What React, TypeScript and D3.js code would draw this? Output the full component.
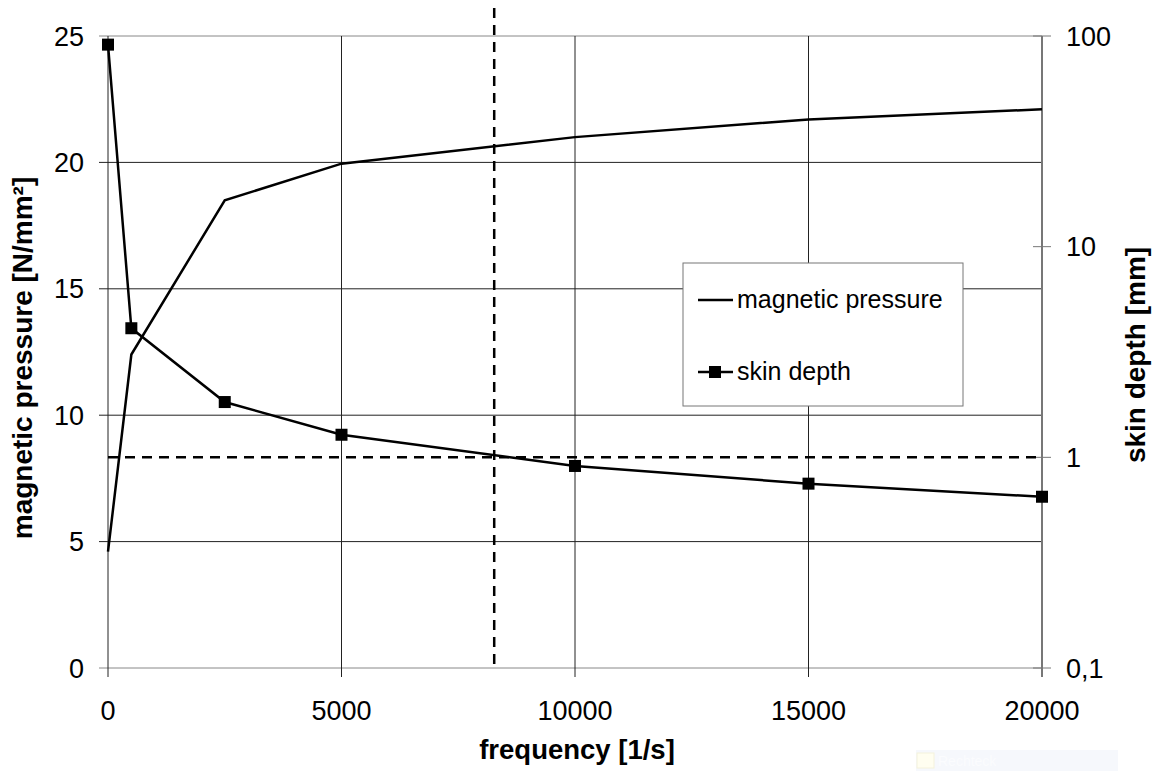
import React from "react";
import * as d3 from "d3";

const frequencies = [0, 500, 2500, 5000, 10000, 15000, 20000];
const pressure = [4.6, 12.4, 18.5, 19.95, 21.0, 21.7, 22.1];
const skinDepth = [91, 4.1, 1.83, 1.28, 0.91, 0.75, 0.65];
const xTicks = [0, 5000, 10000, 15000, 20000];
const yLeftTicks = [0, 5, 10, 15, 20, 25];
const yRightTicks = [0.1, 1, 10, 100];
const markerFrequency = 8270;
const markerDepth = 1;

const W = 1163;
const H = 771;
const M = { left: 108, right: 1042, top: 36, bottom: 668 };
const font = "'Liberation Sans', Arial, sans-serif";

export default function App() {
  const x = d3.scaleLinear().domain([0, 20000]).range([M.left, M.right]);
  const yL = d3.scaleLinear().domain([0, 25]).range([M.bottom, M.top]);
  const yR = d3.scaleLog().domain([0.1, 100]).range([M.bottom, M.top]);

  const pLine = d3
    .line<number>()
    .x((_, i) => x(frequencies[i]))
    .y((d) => yL(d))(pressure) as string;
  const sLine = d3
    .line<number>()
    .x((_, i) => x(frequencies[i]))
    .y((d) => yR(d))(skinDepth) as string;

  return (
    <svg width={W} height={H} style={{ display: "block", position: "absolute", left: 0, top: 0 }} fontFamily={font}>
      <rect width={W} height={H} fill="#fff" />
      {/* horizontal gridlines */}
      {yLeftTicks.map((t) => (
        <line key={"h" + t} x1={M.left - 9} x2={M.right} y1={yL(t)} y2={yL(t)} stroke={t === 25 || t === 0 ? "#888" : "#222"} strokeWidth={1} />
      ))}
      {/* vertical gridlines */}
      {xTicks.map((t) => (
        <line key={"v" + t} x1={x(t)} x2={x(t)} y1={M.top} y2={M.bottom + 9} stroke={t === 20000 ? "#777" : "#222"} strokeWidth={t === 20000 ? 2 : 1} />
      ))}
      {/* right axis ticks */}
      {yRightTicks.map((t) => (
        <line key={"r" + t} x1={M.right - 9} x2={M.right + 9} y1={yR(t)} y2={yR(t)} stroke="#777" strokeWidth={1} />
      ))}
      {/* left tick labels */}
      {yLeftTicks.map((t) => (
        <text key={"lt" + t} x={84} y={yL(t) + 9.5} textAnchor="end" fontSize={27} fill="#000">
          {t}
        </text>
      ))}
      {/* right tick labels */}
      {yRightTicks.map((t) => (
        <text key={"rt" + t} x={1066} y={yR(t) + 9.5} textAnchor="start" fontSize={27} fill="#000">
          {String(t).replace(".", ",")}
        </text>
      ))}
      {/* x tick labels */}
      {xTicks.map((t) => (
        <text key={"xt" + t} x={x(t)} y={720} textAnchor="middle" fontSize={27} fill="#000">
          {t}
        </text>
      ))}
      {/* axis titles */}
      <text x={577} y={759} textAnchor="middle" fontSize={27.5} fontWeight="bold" fill="#000">
        frequency [1/s]
      </text>
      <text transform={`translate(32, ${358}) rotate(-90)`} textAnchor="middle" fontSize={28} fontWeight="bold" fill="#000">
        magnetic pressure [N/mm²]
      </text>
      <text transform={`translate(1145, ${355}) rotate(-90)`} textAnchor="middle" fontSize={28} fontWeight="bold" fill="#000">
        skin depth [mm]
      </text>
      {/* dashed reference lines */}
      <line x1={x(markerFrequency)} x2={x(markerFrequency)} y1={8} y2={M.bottom} stroke="#000" strokeWidth={2.5} strokeDasharray="10 7" />
      <line x1={M.left} x2={M.right} y1={yR(markerDepth)} y2={yR(markerDepth)} stroke="#000" strokeWidth={2.5} strokeDasharray="10 7" />
      {/* series */}
      <path d={pLine} fill="none" stroke="#000" strokeWidth={2.5} />
      <path d={sLine} fill="none" stroke="#000" strokeWidth={2.5} />
      {skinDepth.map((d, i) => (
        <rect key={"m" + i} x={x(frequencies[i]) - 6} y={yR(d) - 6} width={12} height={12} fill="#000" />
      ))}
      {/* legend */}
      <rect x={683} y={263} width={280} height={143} fill="#fff" stroke="#777" strokeWidth={1} />
      <line x1={698} x2={733} y1={300} y2={300} stroke="#000" strokeWidth={2.5} />
      <text x={737} y={308} fontSize={25} fill="#000">magnetic pressure</text>
      <line x1={698} x2={733} y1={372} y2={372} stroke="#000" strokeWidth={2.5} />
      <rect x={709} y={366} width={12} height={12} fill="#000" />
      <text x={737} y={380} fontSize={25} fill="#000">skin depth</text>
      {/* faint artifact */}
      <rect x={916} y={750} width={202} height={21} fill="#f6f8fc" />
      <rect x={917} y={753} width={17} height={15} fill="#fffef0" stroke="#f4f2dc" strokeWidth={1} />
      <text x={938} y={766} fontSize={14} fill="#fbfcfe">Rechteck</text>
    </svg>
  );
}
